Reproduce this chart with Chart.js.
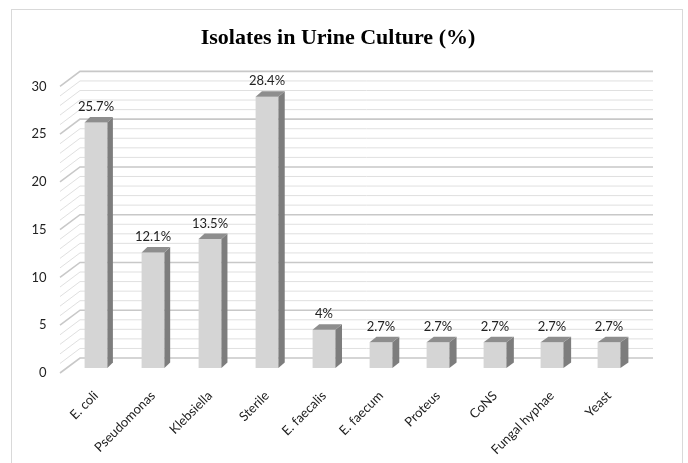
<!DOCTYPE html>
<html>
<head>
<meta charset="utf-8">
<script src="https://cdn.jsdelivr.net/npm/chart.js@4"></script>
<style>
  html, body { margin: 0; padding: 0; background: #fff; }
  #wrap { width: 688px; height: 463px; }
</style>
</head>
<body>
<div id="wrap"><canvas id="myChart" width="688" height="463"></canvas></div>
<script>
const isolates = ['E. coli', 'Pseudomonas', 'Klebsiella', 'Sterile', 'E. faecalis',
  'E. faecum', 'Proteus', 'CoNS', 'Fungal hyphae', 'Yeast'];
const percents = [25.7, 12.1, 13.5, 28.4, 4, 2.7, 2.7, 2.7, 2.7, 2.7];
const yTicks = [0, 5, 10, 15, 20, 25, 30];

const ctx = document.getElementById('myChart').getContext('2d');

// frame + white background
const framePlugin = {
  id: 'frame',
  beforeDraw(chart) {
    const c = chart.ctx;
    c.save();
    c.fillStyle = '#fff';
    c.fillRect(0, 0, chart.width, chart.height);
    c.strokeStyle = '#d9d9d9';
    c.lineWidth = 1;
    c.strokeRect(11.5, 9.5, 671, 470);
    c.restore();
  }
};

// 3d-ish floor/back wall grid, one line per unit
const gridPlugin = {
  id: 'grid3d',
  beforeDatasetsDraw(chart) {
    const c = chart.ctx;
    const ys = chart.scales.y;
    const area = chart.chartArea;
    const x0 = area.left - 7.5, x1 = area.left + 12.5, x2 = area.right + 15.5;
    c.save();
    for (let v = 0; v <= 30; v++) {
      const y = ys.getPixelForValue(v);
      const major = yTicks.includes(v);
      c.strokeStyle = major ? '#c8c8c8' : '#e0e0e0';
      c.lineWidth = major ? 1.6 : 1;
      c.beginPath();
      c.moveTo(x0, y + 5);
      c.lineTo(x1, y - 10);
      c.lineTo(x2, y - 10);
      c.stroke();
    }
    c.restore();
  }
};

// sides, tops and value labels of the bars
const barsPlugin = {
  id: 'bars3d',
  afterDatasetsDraw(chart) {
    const c = chart.ctx;
    const meta = chart.getDatasetMeta(0);
    const n = meta.data.length;
    c.save();
    meta.data.forEach((bar, i) => {
      const p = bar.getProps(['x', 'y', 'base', 'width'], true);
      const l = p.x - p.width / 2, r = p.x + p.width / 2;
      const dx = 5.5 + 2.5 * i / (n - 1), dy = 5.5;
      c.fillStyle = '#7d7d7d';
      c.beginPath();
      c.moveTo(r, p.y); c.lineTo(r + dx, p.y - dy);
      c.lineTo(r + dx, p.base - dy); c.lineTo(r, p.base);
      c.closePath(); c.fill();
      c.fillStyle = '#8e8e8e';
      c.beginPath();
      c.moveTo(l, p.y); c.lineTo(l + dx, p.y - dy);
      c.lineTo(r + dx, p.y - dy); c.lineTo(r, p.y);
      c.closePath(); c.fill();

      c.fillStyle = '#222';
      c.font = '13px Lato';
      c.textAlign = 'center';
      c.textBaseline = 'bottom';
      c.fillText(percents[i] + '%', p.x, p.y - 9);
    });
    c.restore();
  }
};

new Chart(ctx, {
  type: 'bar',
  data: {
    labels: isolates,
    datasets: [{
      label: 'Isolates',
      data: percents,
      backgroundColor: '#d5d5d5',
      borderWidth: 0,
      categoryPercentage: 1,
      barPercentage: 0.4
    }]
  },
  options: {
    responsive: false,
    animation: false,
    layout: { padding: { left: 12, right: 24, top: 0, bottom: 0 } },
    plugins: {
      legend: { display: false },
      tooltip: { enabled: false },
      title: {
        display: true,
        text: 'Isolates in Urine Culture (%)',
        color: '#000',
        font: { family: 'Liberation Serif', size: 22, weight: 'bold' },
        padding: { top: 25, bottom: 30 }
      }
    },
    scales: {
      x: {
        grid: { display: false, drawTicks: false },
        border: { display: false },
        ticks: {
          color: '#222',
          font: { family: 'Lato', size: 13 },
          maxRotation: 45,
          minRotation: 45,
          padding: 20,
          autoSkip: false
        },
        afterFit(scale) { scale.height = 95; }
      },
      y: {
        min: 0,
        max: 30,
        grid: { display: false, drawTicks: false },
        border: { display: false },
        ticks: {
          stepSize: 5,
          color: '#222',
          font: { family: 'Lato', size: 13 },
          padding: 21,
          labelOffset: 5
        },
        afterFit(scale) { scale.width = 55.5; }
      },
      // empty right axis, only keeps room for the back wall
      yRight: {
        position: 'right',
        min: 0,
        max: 30,
        grid: { display: false, drawTicks: false },
        border: { display: false },
        ticks: { display: false },
        afterFit(scale) { scale.width = 26.5; }
      }
    }
  },
  plugins: [framePlugin, gridPlugin, barsPlugin]
});
</script>
</body>
</html>
